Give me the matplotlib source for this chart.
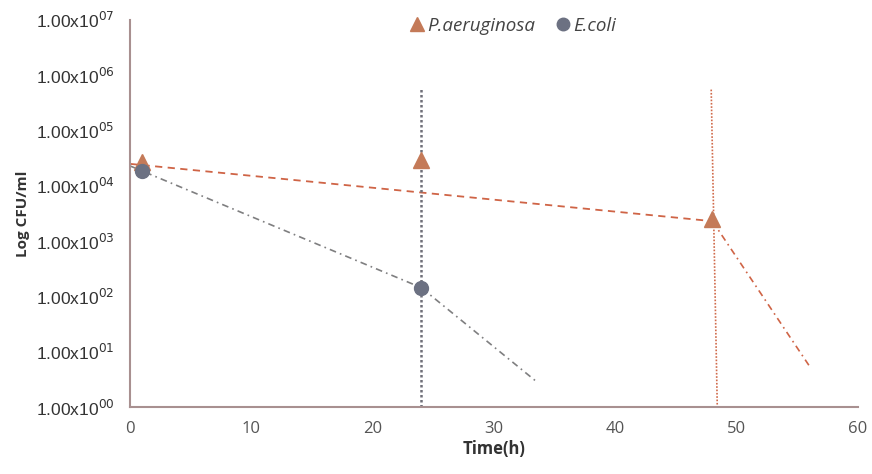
import matplotlib
matplotlib.use("Agg")
import matplotlib.pyplot as plt
import numpy as np

# Data
time_pa = [1, 24, 48]
cfu_pa = [2.7e4, 2.9e4, 2.5e3]
time_ec = [1, 24]
cfu_ec = [1.85e4, 1.45e2]

# trend / extrapolation lines
trend_pa_x = [0, 48]
trend_pa_y = [2.5e4, 2.3e3]
extra_pa_x = [48, 56]
extra_pa_y = [2.3e3, 5.5]
trend_ec_x = [0, 24, 33.5]
trend_ec_y = [2.3e4, 1.45e2, 2.9]

# vertical dotted markers
vline_ec_x = 24
vline_ec_top = 6.0e5
vline_pa_x = [47.9, 48.4]
vline_pa_y = [5.5e5, 1.0]

yticks = [1e0, 1e1, 1e2, 1e3, 1e4, 1e5, 1e6, 1e7]
ytick_labels = [r"1.00x10$^{%02d}$" % i for i in range(8)]
xticks = [0, 10, 20, 30, 40, 50, 60]

c_pa_marker = "#c47a58"
c_pa_line = "#cf6446"
c_ec_marker = "#6c7182"
c_ec_line = "#7f7f80"
spine_c = "#a89090"

fig = plt.figure(figsize=(8.72, 4.74), dpi=100)
ax = fig.add_axes([0.149, 0.141, 0.835, 0.817])
ax.set_yscale("log")
ax.set_xlim(0, 60)
ax.set_ylim(1, 1e7)

ax.plot(trend_pa_x, trend_pa_y, linestyle=(0, (4, 3)), color=c_pa_line, lw=1.3, zorder=2)
ax.plot(extra_pa_x, extra_pa_y, linestyle=(0, (4, 2.5, 1, 2.5)), color=c_pa_line, lw=1.2, zorder=2)
ax.plot(trend_ec_x, trend_ec_y, linestyle=(0, (4, 2.5, 1, 2.5)), color=c_ec_line, lw=1.2, zorder=2)
ax.plot([vline_ec_x, vline_ec_x], [1, vline_ec_top], linestyle=(0, (1, 1)), color="#6f6f78", lw=1.8, zorder=2)
ax.plot(vline_pa_x, vline_pa_y, linestyle=(0, (1, 1)), color="#d06a4a", lw=1.2, zorder=2)

ax.plot(time_pa, cfu_pa, linestyle="none", marker="^", markersize=11, color=c_pa_marker,
        label="P.aeruginosa", zorder=3)
ax.plot(time_ec, cfu_ec, linestyle="none", marker="o", markersize=10, color=c_ec_marker,
        label="E.coli", zorder=4)

ax.set_yticks(yticks)
ax.set_yticklabels(ytick_labels)
ax.yaxis.set_minor_locator(matplotlib.ticker.NullLocator())
ax.set_xticks(xticks)
ax.tick_params(axis="both", length=0, colors="#333333")
ax.tick_params(axis="y", pad=11, labelsize=12.5)
ax.tick_params(axis="x", pad=10, labelsize=12)
for lab in ax.get_yticklabels():
    lab.set_fontfamily("Liberation Sans")
for lab in ax.get_xticklabels():
    lab.set_fontfamily("Open Sans")
    lab.set_color("#555555")

for s in ["top", "right"]:
    ax.spines[s].set_visible(False)
for s in ["left", "bottom"]:
    ax.spines[s].set_color(spine_c)
    ax.spines[s].set_linewidth(1.5)

ax.set_xlabel("Time(h)", fontsize=12, fontweight="bold", fontfamily="Open Sans", color="#333333", labelpad=2)
ax.set_ylabel("Log CFU/ml", fontsize=11, fontweight="bold", fontfamily="Open Sans", color="#333333", labelpad=4)

leg = fig.legend(loc="upper center", bbox_to_anchor=(0.587, 1.0), ncol=2, frameon=False,
                 handletextpad=0.05, columnspacing=1.0, handlelength=1.0, markerscale=0.9,
                 prop={"family": "Open Sans", "style": "italic", "size": 13.5})
for t in leg.get_texts():
    t.set_color("#444444")

fig.savefig("out.png", dpi=100)
